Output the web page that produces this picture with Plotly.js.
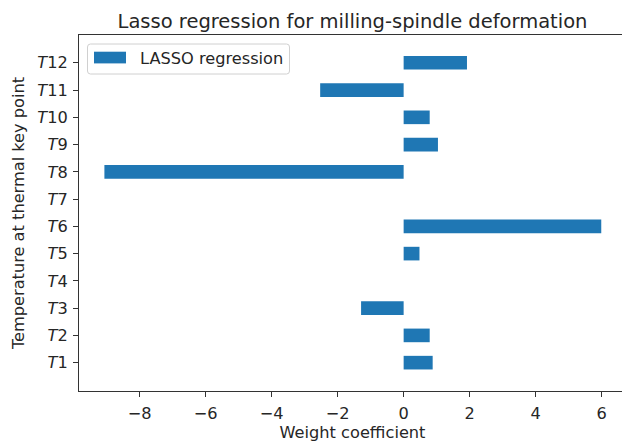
<!DOCTYPE html>
<html>
<head>
<meta charset="utf-8">
<script src="https://cdn.plot.ly/plotly-3.0.1.min.js"></script>
<style>
html,body{margin:0;padding:0;overflow:hidden;background:#fff;}
#chart{width:630px;height:445px;}
</style>
</head>
<body>
<div id="chart"></div>
<script>
const categories = ["T1","T2","T3","T4","T5","T6","T7","T8","T9","T10","T11","T12"];
const tickLabels = ["<i>T</i>1","<i>T</i>2","<i>T</i>3","<i>T</i>4","<i>T</i>5","<i>T</i>6","<i>T</i>7","<i>T</i>8","<i>T</i>9","<i>T</i>10","<i>T</i>11","<i>T</i>12"];
const weights = [0.88, 0.79, -1.29, 0, 0.48, 5.99, 0, -9.07, 1.04, 0.79, -2.53, 1.92];
const seriesName = "LASSO regression";
const barColor = "#1f77b4";
const font = "DejaVu Sans, sans-serif";
const fs = 16.2, tfs = 19.5;

const trace = {
  type: "bar",
  orientation: "h",
  x: weights,
  y: categories,
  width: 0.5,
  name: seriesName,
  marker: {color: barColor, line: {width: 0}},
  showlegend: false,
  hoverinfo: "x+y"
};

const layout = {
  width: 630,
  height: 445,
  margin: {l: 79, r: 4, t: 35, b: 54, pad: 0},
  paper_bgcolor: "#fff",
  plot_bgcolor: "#fff",
  font: {family: font, color: "#262626", size: fs},
  title: {
    text: "Lasso regression for milling-spindle deformation",
    font: {family: font, size: tfs, color: "#262626"},
    x: 352.5/630, xanchor: "center",
    yref: "container", y: 1 - 21/445, yanchor: "middle"
  },
  xaxis: {
    range: [-9.84, 6.74],
    tickvals: [-8, -6, -4, -2, 0, 2, 4, 6],
    ticks: "outside", ticklen: 5, tickwidth: 1, tickcolor: "#333",
    ticklabelstandoff: 3,
    showgrid: false, zeroline: false,
    showline: true, linecolor: "#333", linewidth: 1, mirror: true,
    tickfont: {family: font, size: fs, color: "#262626"},
    title: {text: "Weight coefficient", font: {family: font, size: fs, color: "#262626"}, standoff: 3},
    fixedrange: true
  },
  yaxis: {
    type: "category",
    categoryorder: "array",
    categoryarray: categories,
    range: [-1.04, 12.02],
    tickvals: categories,
    ticktext: tickLabels,
    ticks: "outside", ticklen: 5, tickwidth: 1, tickcolor: "#333",
    ticklabelstandoff: 2,
    showgrid: false, zeroline: false,
    showline: true, linecolor: "#333", linewidth: 1, mirror: true,
    tickfont: {family: font, size: fs, color: "#262626"},
    title: {text: "Temperature at thermal key point", font: {family: font, size: fs, color: "#262626"}, standoff: 8},
    fixedrange: true
  },
  shapes: [
    {type: "path", xref: "paper", yref: "paper",
     path: "", line: {color: "#d0d0d0", width: 1}, fillcolor: "rgba(255,255,255,0.8)", layer: "above"},
    {type: "rect", xref: "paper", yref: "paper", line: {width: 0}, fillcolor: barColor, layer: "above",
     x0: 0, x1: 0, y0: 0, y1: 0}
  ],
  annotations: [
    {xref: "paper", yref: "paper", text: seriesName, showarrow: false,
     xanchor: "left", yanchor: "middle", font: {family: font, size: fs, color: "#262626"}}
  ]
};

// legend geometry in pixels, converted to paper coords
const plotL = 79, plotR = 626, plotT = 35, plotB = 391;
const pw = plotR - plotL, ph = plotB - plotT;
const px = v => (v - plotL) / pw;
const py = v => (plotB - v) / ph;
const bx0 = 87.5, bx1 = 289.5, by0 = 44, by1 = 74, rr = 3;
layout.shapes[0].path =
  `M ${px(bx0+rr)},${py(by0)} L ${px(bx1-rr)},${py(by0)} Q ${px(bx1)},${py(by0)} ${px(bx1)},${py(by0+rr)} ` +
  `L ${px(bx1)},${py(by1-rr)} Q ${px(bx1)},${py(by1)} ${px(bx1-rr)},${py(by1)} ` +
  `L ${px(bx0+rr)},${py(by1)} Q ${px(bx0)},${py(by1)} ${px(bx0)},${py(by1-rr)} ` +
  `L ${px(bx0)},${py(by0+rr)} Q ${px(bx0)},${py(by0)} ${px(bx0+rr)},${py(by0)} Z`;
Object.assign(layout.shapes[1], {x0: px(94), x1: px(126), y0: py(51.7), y1: py(63.4)});
Object.assign(layout.annotations[0], {x: px(138), y: py(58)});

Plotly.newPlot("chart", [trace], layout, {displayModeBar: false, staticPlot: true});
</script>
</body>
</html>
